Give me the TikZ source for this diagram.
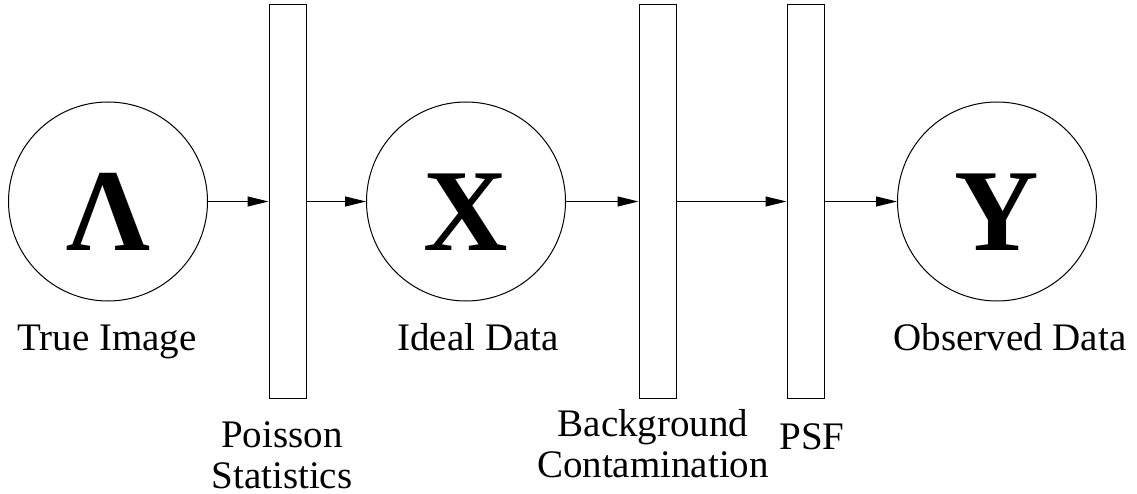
\documentclass[tikz,border=0pt]{standalone}
\usepackage{fontspec}
\setmainfont{Liberation Serif}
\usetikzlibrary{arrows.meta}
\begin{document}
\begin{tikzpicture}[x=1pt,y=-1pt,
  state/.style={draw, circle, line width=1pt, minimum size=199pt, inner sep=0pt},
  stage/.style={draw, rectangle, line width=1pt, minimum width=37pt, minimum height=394pt, inner sep=0pt},
  glyph/.style={anchor=base, inner sep=0pt, font=\fontsize{117}{117}\selectfont\bfseries},
  lbl/.style={anchor=base, inner sep=0pt, align=center, font=\fontsize{39}{41}\selectfont},
  flow/.style={line width=1pt, -{Triangle[length=21pt,width=10pt]}}]
\useasboundingbox (0,0) rectangle (1137,494);
% states
\node[state] (L) at (108,201.5) {};
\node[state] (X) at (466,201.5) {};
\node[state] (Y) at (997,201.5) {};
% stages
\node[stage] (P) at (287.5,201.5) {};
\node[stage] (B) at (657.5,201.5) {};
\node[stage] (F) at (805.5,201.5) {};
% glyphs
\node[glyph] (gL) at (108,251) {Λ};
\node[glyph] (gX) at (466,251) {X};
\node[glyph] (gY) at (997,251) {Y};
% labels (base = baseline of the last line)
\node[lbl] (tL) at (107,350) {True Image};
\node[lbl] (tX) at (478,350) {Ideal Data};
\node[lbl] (tY) at (1010,350) {Observed Data};
\node[lbl] (tP) at (282,488) {Poisson\\Statistics};
\node[lbl] (tB) at (653,477) {Background\\Contamination};
\node[lbl] (tF) at (812,449) {PSF};
% connectors
\draw[flow] (L.east) -- (P.west);
\draw[flow] (P.east) -- (X.west);
\draw[flow] (X.east) -- (B.west);
\draw[flow] (B.east) -- (F.west);
\draw[flow] (F.east) -- (Y.west);
\end{tikzpicture}
\end{document}
